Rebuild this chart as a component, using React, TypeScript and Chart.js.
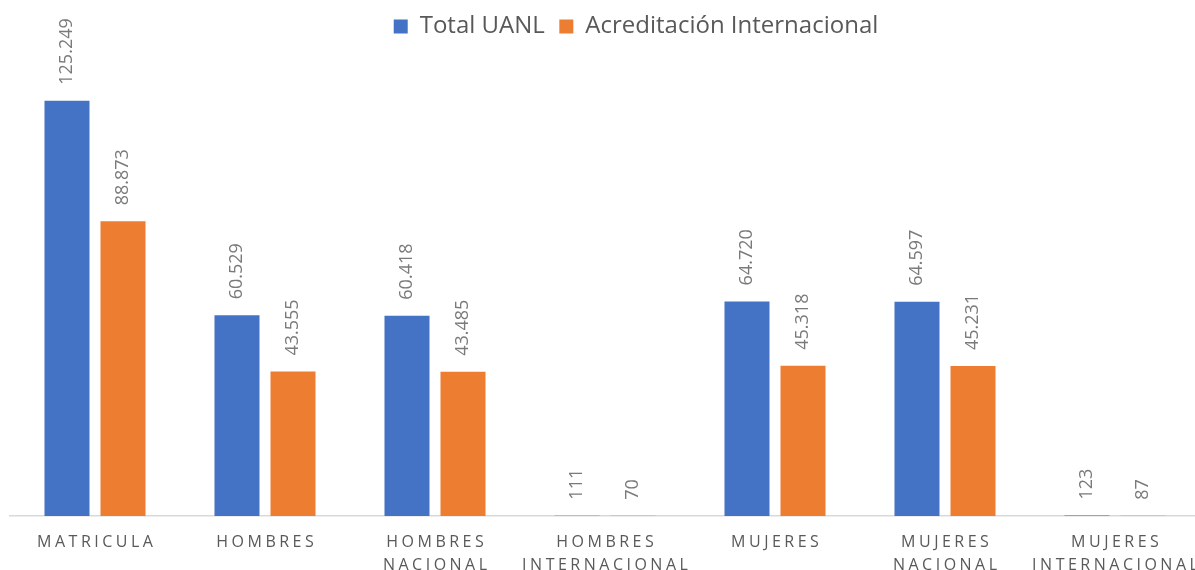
import React, { useEffect, useRef } from "react";
import { Chart, registerables } from "chart.js";

Chart.register(...registerables);

const categories: string[][] = [
  ["MATRICULA"],
  ["HOMBRES"],
  ["HOMBRES", "NACIONAL"],
  ["HOMBRES", "INTERNACIONAL"],
  ["MUJERES"],
  ["MUJERES", "NACIONAL"],
  ["MUJERES", "INTERNACIONAL"],
];
const totalUANL: number[] = [125249, 60529, 60418, 111, 64720, 64597, 123];
const acreditacionInternacional: number[] = [88873, 43555, 43485, 70, 45318, 45231, 87];
const seriesNames: string[] = ["Total UANL", "Acreditación Internacional"];
const seriesColors: string[] = ["#4472C4", "#ED7D31"];

const FONT = "'Open Sans', 'DejaVu Sans', sans-serif";

function fmt(v: number): string {
  return String(Math.round(v)).replace(/\B(?=(\d{3})+(?!\d))/g, ".");
}

const dataLabelPlugin = {
  id: "dataLabels",
  afterDatasetsDraw(chart: any) {
    const ctx = chart.ctx;
    ctx.save();
    ctx.font = `18px ${FONT}`;
    ctx.fillStyle = "#7A7A7A";
    chart.data.datasets.forEach((ds: any, i: number) => {
      const meta = chart.getDatasetMeta(i);
      meta.data.forEach((bar: any, j: number) => {
        ctx.save();
        ctx.translate(bar.x, bar.y - 16);
        ctx.rotate(-Math.PI / 2);
        ctx.textAlign = "left";
        ctx.textBaseline = "middle";
        ctx.fillText(fmt(ds.data[j]), 0, 0);
        ctx.restore();
      });
    });
    ctx.restore();
  },
};

const xLabelPlugin = {
  id: "xLabels",
  afterDraw(chart: any) {
    const ctx = chart.ctx;
    const xs = chart.scales.x;
    const bottom = chart.chartArea.bottom;
    const spacing = 3.5;
    ctx.save();
    ctx.font = `16px ${FONT}`;
    ctx.fillStyle = "#595959";
    ctx.textAlign = "center";
    ctx.textBaseline = "alphabetic";
    (ctx as any).letterSpacing = spacing + "px";
    categories.forEach((lines, i) => {
      const px = xs.getPixelForValue(i) + spacing / 2;
      lines.forEach((line, k) => {
        ctx.fillText(line, px, bottom + 30.5 + k * 23);
      });
    });
    ctx.restore();
  },
};

const legendShiftPlugin = {
  id: "legendShift",
  afterLayout(chart: any) {
    if (chart.legend) {
      chart.legend.left += 31;
      chart.legend.right += 31;
    }
  },
};

export default function App() {
  const ref = useRef<HTMLCanvasElement | null>(null);
  useEffect(() => {
    if (!ref.current) return;
    const chart = new Chart(ref.current, {
      type: "bar",
      data: {
        labels: categories.map((c) => c.join(" ")),
        datasets: [
          {
            label: seriesNames[0],
            data: totalUANL,
            backgroundColor: seriesColors[0],
            categoryPercentage: 0.659,
            barPercentage: 0.8036,
          },
          {
            label: seriesNames[1],
            data: acreditacionInternacional,
            backgroundColor: seriesColors[1],
            categoryPercentage: 0.659,
            barPercentage: 0.8036,
          },
        ],
      },
      options: {
        responsive: false,
        animation: false,
        devicePixelRatio: 1,
        layout: { padding: { left: 10, right: 5, top: 0, bottom: 54 } },
        plugins: {
          legend: {
            display: true,
            position: "top",
            labels: {
              boxWidth: 14,
              boxHeight: 14,
              padding: 14.5,
              color: "#595959",
              font: { family: FONT, size: 24 },
            },
          },
          tooltip: { enabled: false },
        },
        scales: {
          x: {
            display: true,
            grid: { display: false, drawTicks: false },
            border: { display: true, color: "#D9D9D9", width: 1.5 },
            ticks: { display: false },
          },
          y: {
            display: false,
            min: 0,
            max: 141000,
          },
        },
      },
      plugins: [dataLabelPlugin, xLabelPlugin, legendShiftPlugin],
    });
    return () => chart.destroy();
  }, []);
  return (
    <div
      style={{
        position: "fixed",
        left: 0,
        top: 0,
        width: 1195,
        height: 570,
        overflow: "hidden",
        background: "#fff",
      }}
    >
      <canvas ref={ref} width={1205} height={570} style={{ display: "block" }} />
    </div>
  );
}
